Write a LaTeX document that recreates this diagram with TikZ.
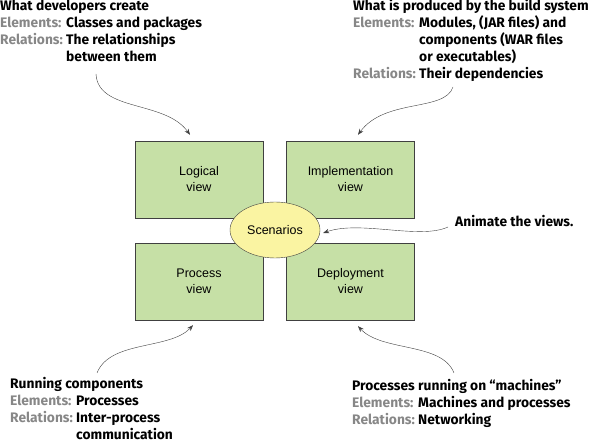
\documentclass[tikz,border=0pt]{standalone}
\usepackage{fontspec}
\setmainfont{Liberation Sans}
\newfontfamily\notefont{Fira Sans}
\usetikzlibrary{arrows.meta,shapes.geometric,positioning}
\definecolor{viewgreen}{RGB}{198,224,166}
\definecolor{scenyellow}{RGB}{250,244,162}
\definecolor{labelgray}{RGB}{135,135,135}
\definecolor{edge}{RGB}{64,64,64}
\newcommand{\lbl}[1]{\textcolor{labelgray}{#1}}

\begin{document}
\begin{tikzpicture}[x=1pt, y=-1pt,
		view/.style={draw=edge, fill=viewgreen, minimum width=128pt, minimum height=77pt, inner sep=0pt, align=center, font=\fontsize{12.5}{16}\selectfont},
		scenario/.style={ellipse, draw=edge, fill=scenyellow, minimum width=90pt, minimum height=56pt, inner sep=0pt, font=\fontsize{12.5}{14}\selectfont},
		note/.style={anchor=base west, inner sep=0pt, font=\notefont\bfseries\fontsize{13.8}{17}\selectfont},
		pointer/.style={-{Stealth[length=6pt,width=4.5pt]}, draw=edge}]
		
		\useasboundingbox (0,0) rectangle (590,443);
		
		% the four views
		\node [view] (logical) at (199,179.5) {Logical\\view};
		\node [view] (implementation) at (350.5,179.5) {Implementation\\view};
		\node [view] (process) at (199,281.5) {Process\\view};
		\node [view] (deployment) at (350.5,281.5) {Deployment\\view};
		\node [scenario] (scenarios) at (275,230) {Scenarios};
		
		% notes
		\node [note] (devNote) at (0,11) {\begin{tabular}[t]{@{}l@{\ }l@{}}
				\multicolumn{2}{@{}l@{}}{What developers create}\\
				\lbl{Elements:} & Classes and packages\\
				\lbl{Relations:} & The relationships\\
				& between them
			\end{tabular}};
		\node [note] (buildNote) at (353,11) {\begin{tabular}[t]{@{}l@{\ }l@{}}
				\multicolumn{2}{@{}l@{}}{What is produced by the build system}\\
				\lbl{Elements:} & Modules, (JAR files) and\\
				& components (WAR files\\
				& or executables)\\
				\lbl{Relations:} & Their dependencies
			\end{tabular}};
		\node [note] (runNote) at (10,389) {\begin{tabular}[t]{@{}l@{\ }l@{}}
				\multicolumn{2}{@{}l@{}}{Running components}\\
				\lbl{Elements:} & Processes\\
				\lbl{Relations:} & Inter-process\\
				& communication
			\end{tabular}};
		\node [note] (machineNote) at (352,391) {\begin{tabular}[t]{@{}l@{\ }l@{}}
				\multicolumn{2}{@{}l@{}}{Processes running on “machines”}\\
				\lbl{Elements:} & Machines and processes\\
				\lbl{Relations:} & Networking
			\end{tabular}};
		\node [note] (animateNote) at (455,227) {Animate the views.};
		
		\coordinate (devTail) at (96,74);
		\coordinate (buildTail) at (453,87);
		\coordinate (animateTail) at (448,227);
		\coordinate (runTail) at (97,373);
		\coordinate (machineTail) at (454,373);
		
		\draw [pointer] (devTail) .. controls (98,112) and (165,100) .. ([shift={(-9,-6)}] logical.north);
		\draw [pointer] (buildTail) .. controls (445,112) and (385,98) .. ([shift={(7.5,-6)}] implementation.north);
		\draw [pointer] (animateTail) .. controls (420,240) and (360,220) .. ([shift={(3,3)}] scenarios.east);
		\draw [pointer] (runTail) .. controls (110,340) and (170,350) .. ([shift={(-6,5)}] process.south);
		\draw [pointer] (machineTail) .. controls (442,342) and (382,352) .. ([shift={(7.5,6)}] deployment.south);
	\end{tikzpicture}
\end{document}
